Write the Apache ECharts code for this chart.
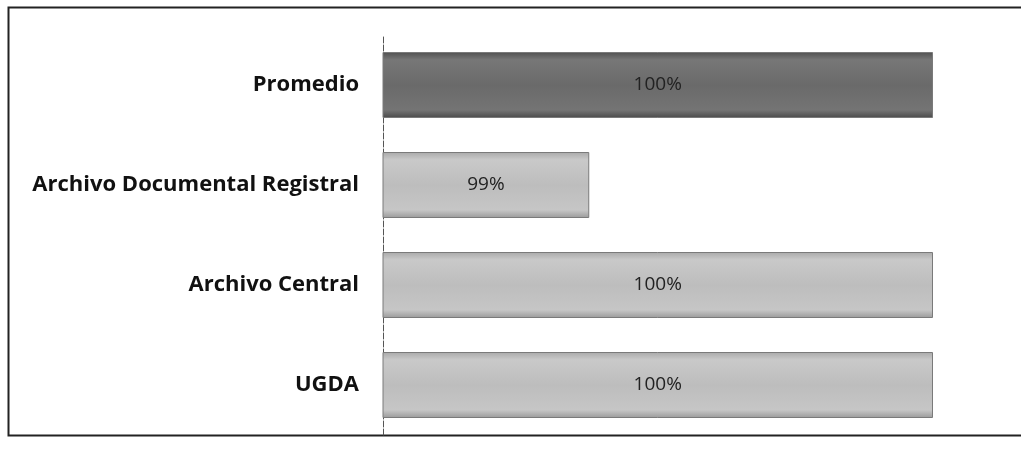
<!DOCTYPE html>
<html>
<head>
<meta charset="utf-8">
<script src="https://cdn.jsdelivr.net/npm/echarts@6/dist/echarts.min.js"></script>
<style>
	html,body{margin:0;padding:0;background:#fff;}
	#chart{width:1021px;height:466px;}
</style>
</head>
<body>
<div id="chart"></div>
<script>
	// categories listed bottom to top (category axis on y starts at bottom)
	const categories = ['UGDA', 'Archivo Central', 'Archivo Documental Registral', 'Promedio'];
	const values = [100, 100, 99, 100];

	const myChart = echarts.init(document.getElementById('chart'));

	const lightBar = new echarts.graphic.LinearGradient(0, 0, 0, 1, [
		{offset: 0, color: '#a9a9a9'},
		{offset: 0.12, color: '#c9c9c9'},
		{offset: 0.5, color: '#bdbdbd'},
		{offset: 0.88, color: '#c6c6c6'},
		{offset: 1, color: '#9a9a9a'}
	]);
	const darkBar = new echarts.graphic.LinearGradient(0, 0, 0, 1, [
		{offset: 0, color: '#505050'},
		{offset: 0.12, color: '#777777'},
		{offset: 0.5, color: '#6a6a6a'},
		{offset: 0.88, color: '#747474'},
		{offset: 1, color: '#4a4a4a'}
	]);

	const option = {
		backgroundColor: '#fff',
		animation: false,
		graphic: [{
			type: 'rect',
			shape: {x: 8.5, y: 7.5, width: 1030, height: 428},
			style: {fill: 'none', stroke: '#222', lineWidth: 2},
			silent: true
		}],
		grid: {left: 383, right: 88, top: 35, bottom: 31},
		xAxis: {
			type: 'value',
			min: 98.4,
			max: 100,
			show: false
		},
		yAxis: {
			type: 'category',
			data: categories,
			axisLine: {show: true, lineStyle: {color: '#555', width: 1, type: [6, 2]}},
			axisTick: {show: false},
			axisLabel: {
				color: '#111',
				fontFamily: 'Open Sans',
				fontWeight: 'bold',
				fontSize: 22,
				margin: 24
			}
		},
		series: [{
			type: 'bar',
			data: values.map((v, i) => ({
				value: v,
				itemStyle: {color: categories[i] === 'Promedio' ? darkBar : lightBar}
			})),
			barWidth: 66,
			itemStyle: {borderColor: '#7a7a7a', borderWidth: 1},
			label: {
				show: true,
				position: 'inside',
				color: '#222',
				fontFamily: 'Open Sans',
				fontSize: 19,
				formatter: p => Math.round(p.value) + '%'
			}
		}]
	};
	myChart.setOption(option);
</script>
</body>
</html>
